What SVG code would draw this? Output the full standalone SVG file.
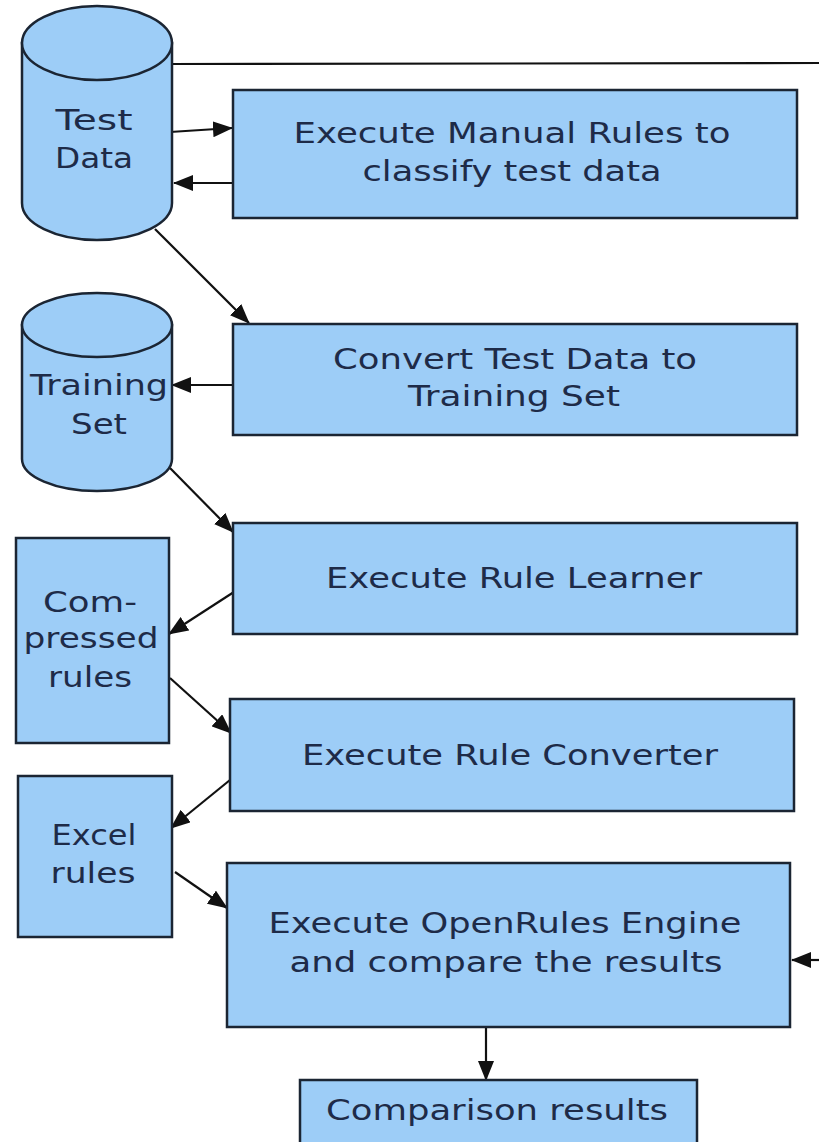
<svg xmlns="http://www.w3.org/2000/svg" width="819" height="1142" viewBox="0 0 819 1142">
<defs>
<style>
.box{fill:#9dcdf7;stroke:#1b2533;stroke-width:2.5}
.t{font-family:"DejaVu Sans","Liberation Sans",sans-serif;font-size:29px;fill:#1e2b48;text-anchor:middle}
.c{stroke:#111;stroke-width:2.2;fill:none}
</style>
<marker id="ah" viewBox="0 0 20 16" refX="19" refY="8" markerWidth="20" markerHeight="16" markerUnits="userSpaceOnUse" orient="auto">
<path d="M0,0 L20,8 L0,16 Z" fill="#111"/>
</marker>
</defs>
<rect width="819" height="1142" fill="#ffffff"/>

<g id="connectors">
<line class="c" x1="172" y1="64" x2="819" y2="63"/>
<line class="c" x1="170" y1="132" x2="232" y2="128" marker-end="url(#ah)"/>
<line class="c" x1="232" y1="183" x2="174" y2="183" marker-end="url(#ah)"/>
<line class="c" x1="155" y1="229" x2="249" y2="323" marker-end="url(#ah)"/>
<line class="c" x1="233" y1="385" x2="172" y2="385" marker-end="url(#ah)"/>
<line class="c" x1="170" y1="468" x2="233" y2="532" marker-end="url(#ah)"/>
<line class="c" x1="237" y1="590" x2="169" y2="634" marker-end="url(#ah)"/>
<line class="c" x1="170" y1="678" x2="231" y2="733" marker-end="url(#ah)"/>
<line class="c" x1="230" y1="780" x2="171" y2="828" marker-end="url(#ah)"/>
<line class="c" x1="175" y1="872" x2="227" y2="908" marker-end="url(#ah)"/>
<line class="c" x1="486" y1="1027" x2="486" y2="1080" marker-end="url(#ah)"/>
<line class="c" x1="819" y1="960" x2="792" y2="960" marker-end="url(#ah)"/>
</g>

<g id="test-data">
<path class="box" d="M22,43 L22,203 A75,37 0 0 0 172,203 L172,43 Z"/>
<ellipse class="box" cx="97" cy="43" rx="75" ry="37"/>
<text class="t" x="94" y="130" textLength="77" lengthAdjust="spacingAndGlyphs">Test</text>
<text class="t" x="94" y="168" textLength="78" lengthAdjust="spacingAndGlyphs">Data</text>
</g>

<g id="manual-rules">
<rect class="box" x="233" y="90" width="564" height="128"/>
<text class="t" x="512" y="143" textLength="437" lengthAdjust="spacingAndGlyphs">Execute Manual Rules to</text>
<text class="t" x="512" y="181" textLength="299" lengthAdjust="spacingAndGlyphs">classify test data</text>
</g>

<g id="training-set">
<path class="box" d="M22,325 L22,459 A75,32 0 0 0 172,459 L172,325 Z"/>
<ellipse class="box" cx="97" cy="325" rx="75" ry="32"/>
<text class="t" x="99" y="395" textLength="138" lengthAdjust="spacingAndGlyphs">Training</text>
<text class="t" x="99" y="434" textLength="56" lengthAdjust="spacingAndGlyphs">Set</text>
</g>

<g id="convert">
<rect class="box" x="233" y="324" width="564" height="111"/>
<text class="t" x="515" y="369" textLength="364" lengthAdjust="spacingAndGlyphs">Convert Test Data to</text>
<text class="t" x="514" y="406" textLength="212" lengthAdjust="spacingAndGlyphs">Training Set</text>
</g>

<g id="rule-learner">
<rect class="box" x="233" y="523" width="564" height="111"/>
<text class="t" x="514" y="588" textLength="376" lengthAdjust="spacingAndGlyphs">Execute Rule Learner</text>
</g>

<g id="compressed-rules">
<rect class="box" x="16" y="538" width="153" height="205"/>
<text class="t" x="90" y="612" textLength="94" lengthAdjust="spacingAndGlyphs">Com-</text>
<text class="t" x="91" y="648" textLength="135" lengthAdjust="spacingAndGlyphs">pressed</text>
<text class="t" x="90" y="687" textLength="84" lengthAdjust="spacingAndGlyphs">rules</text>
</g>

<g id="rule-converter">
<rect class="box" x="230" y="699" width="564" height="112"/>
<text class="t" x="510" y="765" textLength="416" lengthAdjust="spacingAndGlyphs">Execute Rule Converter</text>
</g>

<g id="excel-rules">
<rect class="box" x="18" y="776" width="154" height="161"/>
<text class="t" x="94" y="845" textLength="85" lengthAdjust="spacingAndGlyphs">Excel</text>
<text class="t" x="93" y="883" textLength="85" lengthAdjust="spacingAndGlyphs">rules</text>
</g>

<g id="openrules-engine">
<rect class="box" x="227" y="863" width="563" height="164"/>
<text class="t" x="505" y="933" textLength="473" lengthAdjust="spacingAndGlyphs">Execute OpenRules Engine</text>
<text class="t" x="506" y="972" textLength="433" lengthAdjust="spacingAndGlyphs">and compare the results</text>
</g>

<g id="comparison-results">
<rect class="box" x="300" y="1080" width="397" height="75"/>
<text class="t" x="497" y="1120" textLength="342" lengthAdjust="spacingAndGlyphs">Comparison results</text>
</g>
</svg>
